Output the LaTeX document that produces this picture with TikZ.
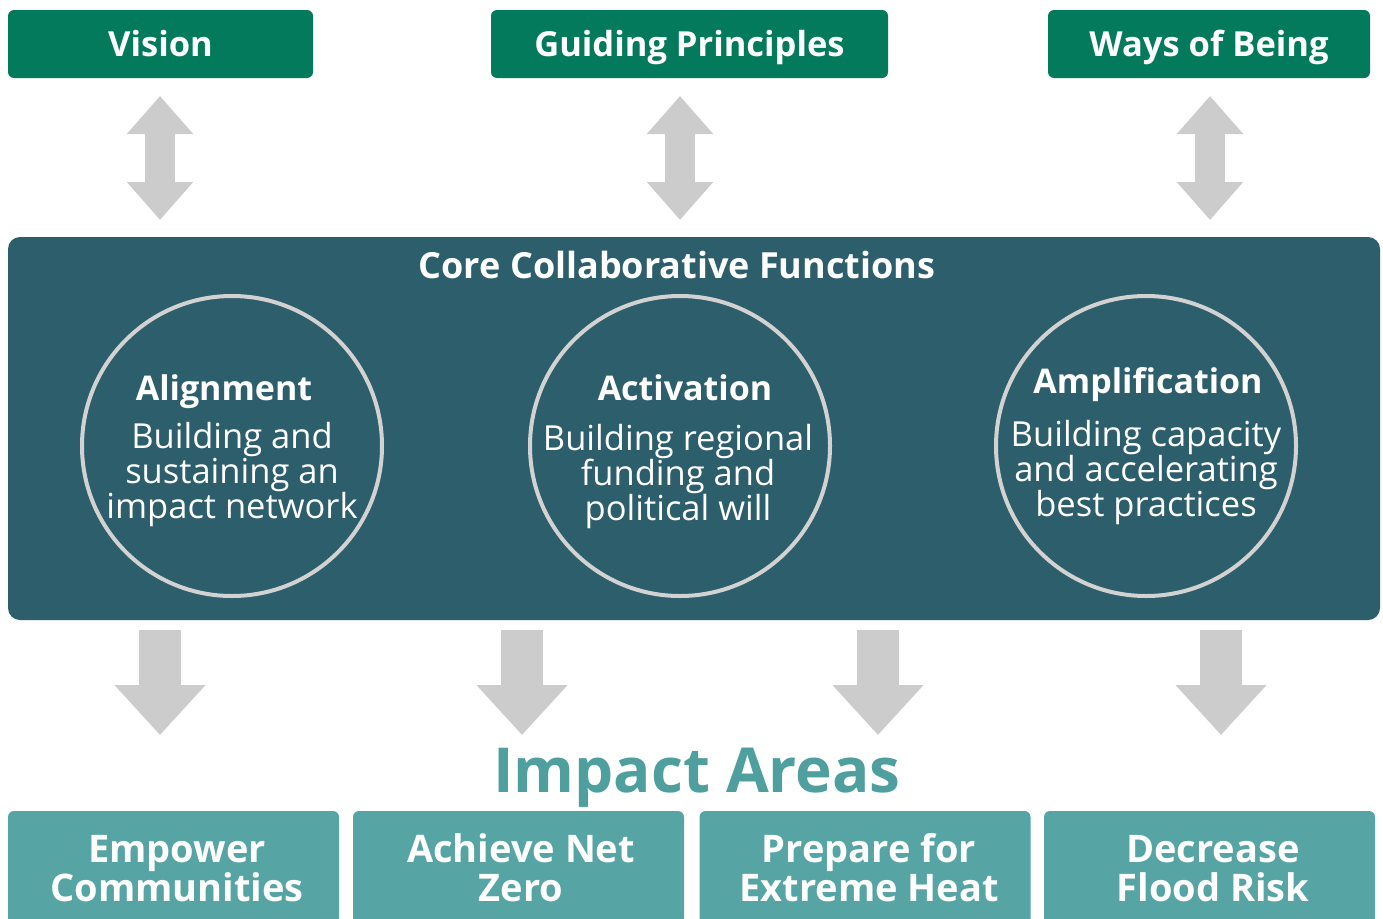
\documentclass[tikz,border=0pt]{standalone}
\usepackage{fontspec}
\setmainfont{Open Sans}
\usetikzlibrary{arrows.meta}
\definecolor{topgreen}{HTML}{047A5D}
\definecolor{coreteal}{HTML}{2D5E6B}
\definecolor{impteal}{HTML}{56A4A4}
\definecolor{imptext}{HTML}{4E9F9D}
\definecolor{arrowgray}{HTML}{CCCCCC}
\definecolor{ringgray}{HTML}{D2D2D2}
\tikzset{
  topbox/.style={fill=topgreen, rounded corners=6pt, minimum height=68pt, inner sep=0pt,
    text height=30pt, text depth=6pt,
    text=white, font=\bfseries\fontsize{34.5}{40}\selectfont},
  corebox/.style={fill=coreteal, rounded corners=12pt, inner sep=0pt},
  ring/.style={circle, draw=ringgray, line width=4pt, minimum size=300pt, inner sep=0pt},
  ringtitle/.style={text=white, font=\bfseries\fontsize{34}{35}\selectfont, anchor=base},
  ringbody/.style={text=white, align=center, font=\fontsize{34.5}{35}\selectfont, anchor=base},
  impbox/.style={fill=impteal, rounded corners=6pt, minimum width=331pt, minimum height=130pt, inner sep=0pt},
  imptxt/.style={text=white, align=center, font=\bfseries\fontsize{38}{39}\selectfont, anchor=base},
  dblarrow/.style={draw=arrowgray, line width=30pt,
    {Triangle[width=64pt,length=38pt]}-{Triangle[width=64pt,length=38pt]}},
  downarrow/.style={draw=arrowgray, line width=42pt, -{Triangle[width=88pt,length=50pt]}},
}
\begin{document}
\begin{tikzpicture}[x=1pt,y=-1pt]
\clip (0,0) rectangle (1383,918);
\fill[white] (0,0) rectangle (1383,918);

% top boxes
\node[topbox, minimum width=305pt] (vision) at (160.5,44) {Vision};
\node[topbox, minimum width=397pt] (guiding) at (689.5,44) {Guiding Principles};
\node[topbox, minimum width=322pt] (ways) at (1209,44) {Ways of Being};

% core box
\node[corebox, minimum width=1372pt, minimum height=383pt] (core) at (694,428.5) {};
\node[text=white, font=\bfseries\fontsize{36}{40}\selectfont, anchor=base] (coretitle) at (677,278) {Core Collaborative Functions};

% double arrows
\coordinate (va) at (160,96);  \coordinate (vb) at (160,220);
\coordinate (ga) at (680,96);  \coordinate (gb) at (680,220);
\coordinate (wa) at (1210,96); \coordinate (wb) at (1210,220);
\draw[dblarrow] (va) -- (vb);
\draw[dblarrow] (ga) -- (gb);
\draw[dblarrow] (wa) -- (wb);

% circles
\node[ring] (align) at (232,446) {};
\node[ring] (activ) at (680,446) {};
\node[ring] (ampl) at (1146,446) {};

\node[ringtitle] (aligntitle) at (224,400) {Alignment};
\node[ringbody] (alignbody) at (232,518) {Building and\\sustaining an\\impact network};
\node[ringtitle] (activtitle) at (685,400) {Activation};
\node[ringbody] (activbody) at (678,520) {Building regional\\funding and\\political will};
\node[ringtitle] (ampltitle) at (1148,393) {Amplification};
\node[ringbody] (amplbody) at (1146,516) {Building capacity\\and accelerating\\best practices};

% down arrows
\coordinate (d1a) at (160,630);  \coordinate (d1b) at (160,735);
\coordinate (d2a) at (522,630);  \coordinate (d2b) at (522,735);
\coordinate (d3a) at (878,630);  \coordinate (d3b) at (878,735);
\coordinate (d4a) at (1221,630); \coordinate (d4b) at (1221,735);
\draw[downarrow] (d1a) -- (d1b);
\draw[downarrow] (d2a) -- (d2b);
\draw[downarrow] (d3a) -- (d3b);
\draw[downarrow] (d4a) -- (d4b);

% impact areas
\node[text=imptext, font=\bfseries\fontsize{62}{70}\selectfont, anchor=base] (imptitle) at (697,792) {Impact Areas};

\node[impbox] (b1) at (173.5,876) {};
\node[impbox] (b2) at (518.5,876) {};
\node[impbox] (b3) at (865,876) {};
\node[impbox] (b4) at (1209.5,876) {};
\node[imptxt] (t1) at (177,901) {Empower\\Communities};
\node[imptxt] (t2) at (521,901) {Achieve Net\\Zero};
\node[imptxt] (t3) at (869,901) {Prepare for\\Extreme Heat};
\node[imptxt] (t4) at (1213,901) {Decrease\\Flood Risk};
\end{tikzpicture}
\end{document}
